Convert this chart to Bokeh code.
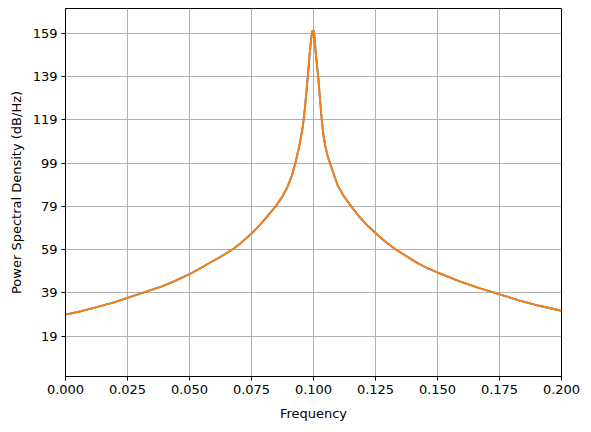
from bokeh.plotting import figure
from bokeh.models import FixedTicker, Range1d, PrintfTickFormatter
from bokeh.embed import file_html
from bokeh.resources import INLINE

freq = [0.0, 0.0063, 0.0131, 0.0198, 0.025, 0.0319, 0.0386, 0.044, 0.05,
        0.0561, 0.0629, 0.0676, 0.0709, 0.075, 0.0771, 0.079, 0.0805, 0.0849,
        0.0875, 0.0896, 0.0912, 0.0927, 0.0943, 0.0957, 0.0966, 0.0977,
        0.0985, 0.0991, 0.0996, 0.1002, 0.1009, 0.1019, 0.1026, 0.1033,
        0.104, 0.1048, 0.1057, 0.1067, 0.108, 0.1098, 0.1122, 0.1152, 0.1184,
        0.1219, 0.125, 0.129, 0.1332, 0.1413, 0.1455, 0.15, 0.1587, 0.1668,
        0.1722, 0.175, 0.1829, 0.191, 0.2]
psd_orange = [28.9, 30.5, 32.5, 34.7, 36.7, 39.3, 41.9, 44.4, 47.6,
              51.5, 55.9, 59.3, 62.2, 66.4, 68.8, 71.2, 73.2, 79.2,
              83.6, 88.2, 93.0, 99.0, 107.0, 116.0, 125.0, 139.0,
              150.0, 157.0, 160.3, 160.0, 150.0, 139.0, 128.7, 119.5,
              112.0, 106.5, 102.3, 98.8, 94.4, 88.5, 83.7, 79.0, 74.3,
              70.0, 66.7, 62.6, 59.0, 53.2, 50.6, 48.4, 44.4, 41.2,
              39.3, 38.3, 35.5, 33.0, 30.7]
psd_blue = list(psd_orange)

x_ticks = [0.0, 0.025, 0.05, 0.075, 0.1, 0.125, 0.15, 0.175, 0.2]
y_ticks = [19, 39, 59, 79, 99, 119, 139, 159]

FONT = "DejaVu Sans"
FS = "13px"

p = figure(width=582, height=423, output_backend="svg", toolbar_location=None,
           x_range=Range1d(0.0, 0.2), y_range=Range1d(0.3, 170.5),
           min_border_left=65, min_border_right=21, min_border_top=8,
           min_border_bottom=45)

p.line(freq, psd_blue, line_color="#1f77b4", line_width=1.9)
p.line(freq, psd_orange, line_color="#ff7f0e", line_width=1.9)

p.xaxis.ticker = FixedTicker(ticks=x_ticks)
p.yaxis.ticker = FixedTicker(ticks=y_ticks)
p.xaxis.formatter = PrintfTickFormatter(format="%.3f")
p.xaxis.axis_label = "Frequency"
p.yaxis.axis_label = "Power Spectral Density (dB/Hz)"

for ax in (p.xaxis, p.yaxis):
    ax.major_label_text_font = FONT
    ax.major_label_text_font_size = FS
    ax.major_label_text_color = "black"
    ax.axis_label_text_font = FONT
    ax.axis_label_text_font_size = FS
    ax.axis_label_text_font_style = "normal"
    ax.axis_label_text_color = "black"
    ax.axis_line_color = "black"
    ax.major_tick_line_color = "black"
    ax.major_tick_out = 4
    ax.major_tick_in = 0
    ax.minor_tick_line_color = None
    ax.major_label_standoff = 4

p.xaxis.axis_label_standoff = 9
p.yaxis.axis_label_standoff = 6

p.grid.grid_line_color = "#b0b0b0"
p.grid.grid_line_width = 1
p.outline_line_color = "black"
p.outline_line_width = 1
p.outline_line_alpha = 1
p.background_fill_color = "white"
p.border_fill_color = "white"

open("out.html", "w").write(file_html(p, INLINE))
